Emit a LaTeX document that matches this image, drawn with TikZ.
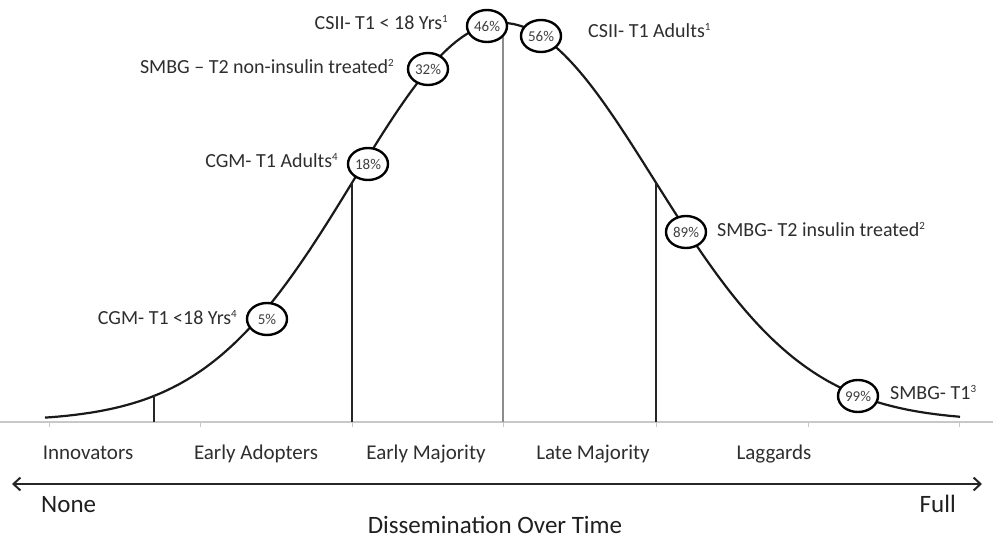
\documentclass[tikz,border=0pt]{standalone}
\usepackage{fontspec}
\setmainfont{Carlito}
\usetikzlibrary{shapes.geometric,arrows.meta}
\definecolor{txt}{HTML}{2E2E2E}
\definecolor{pct}{HTML}{404040}
\definecolor{basegray}{HTML}{C8C8C8}
\newcommand\myup[1]{\raisebox{0.75ex}{\fontsize{11}{12}\selectfont #1}}
\tikzset{
  pctbox/.style={ellipse, draw=black, line width=2.4pt, fill=white, minimum width=40pt, minimum height=32pt, inner sep=0pt, text=pct, font=\fontsize{15}{17}\selectfont},
  note/.style={inner sep=0pt, text=txt, font=\fontsize{20}{24}\selectfont},
  cat/.style={inner sep=0pt, text=txt, font=\fontsize{21}{25}\selectfont, anchor=mid},
  axislab/.style={inner sep=0pt, text=black!88, font=\fontsize{25}{30}\selectfont},
  divline/.style={draw=black!85, line width=1.8pt},
  tick/.style={draw=basegray, line width=1pt}
}
\begin{document}
\begin{tikzpicture}[x=1pt,y=-1pt]
\useasboundingbox (0,0) rectangle (993,540);
% baseline
\coordinate (b0) at (0,422);
\coordinate (b1) at (993,422);
\draw[draw=basegray, line width=1.5pt] (b0) -- (b1);
% faint ticks
\foreach \tx [count=\i] in {49,200,352,503,656,808,959}{
  \coordinate (t\i a) at (\tx,422);
  \coordinate (t\i b) at (\tx,427);
  \draw[tick] (t\i a) -- (t\i b);
}
% bell curve
\draw[line width=2.2pt, black!90, line join=round]
  plot[domain=45:502, samples=120] (\x,{421-398*exp(-0.5*((\x-502)/148)^2)})
  -- plot[domain=502:960, samples=120] (\x,{421-398*exp(-0.5*((\x-502)/152)^2)});
% dividing lines
\coordinate (v1t) at (154,395); \coordinate (v1b) at (154,422);
\coordinate (v2t) at (352,183); \coordinate (v2b) at (352,422);
\coordinate (v3t) at (503,26);  \coordinate (v3b) at (503,422);
\coordinate (v4t) at (656,183); \coordinate (v4b) at (656,422);
\draw[divline, line width=1.5pt] (v1t) -- (v1b);
\draw[divline] (v2t) -- (v2b);
\draw[draw=black!45, line width=2pt] (v3t) -- (v3b);
\draw[divline] (v4t) -- (v4b);
% percentage ellipses
\node[pctbox] (p5)  at (267,319) {5\%};
\node[pctbox] (p18) at (368,164) {18\%};
\node[pctbox] (p32) at (428,69)  {32\%};
\node[pctbox] (p46) at (487,26)  {46\%};
\node[pctbox] (p56) at (541,36)  {56\%};
\node[pctbox] (p89) at (686,232) {89\%};
\node[pctbox] (p99) at (858,396) {99\%};
% labels
\node[note, anchor=mid east] (l5)  at (237,322) {CGM- T1 <18 Yrs\myup{4}};
\node[note, anchor=mid east] (l18) at (338,165) {CGM- T1 Adults\myup{4}};
\node[note, anchor=mid east] (l32) at (394,71)  {SMBG – T2 non-insulin treated\myup{2}};
\node[note, anchor=mid east] (l46) at (448,27)  {CSII- T1 < 18 Yrs\myup{1}};
\node[note, anchor=mid west] (l56) at (588,35)  {CSII- T1 Adults\myup{1}};
\node[note, anchor=mid west] (l89) at (717,234) {SMBG- T2 insulin treated\myup{2}};
\node[note, anchor=mid west] (l99) at (890,397) {SMBG- T1\myup{3}};
% categories
\node[cat] (c1) at (88,457)  {Innovators};
\node[cat] (c2) at (256,457) {Early Adopters};
\node[cat] (c3) at (426,457) {Early Majority};
\node[cat] (c4) at (593,457) {Late Majority};
\node[cat] (c5) at (774,457) {Laggards};
% axis arrow
\coordinate (aL) at (12,484);
\coordinate (aR) at (982,484);
\draw[line width=2.4pt, black!85, {Straight Barb[length=7pt,width=13pt,line width=2pt]}-{Straight Barb[length=7pt,width=13pt,line width=2pt]}] (aL) -- (aR);
\node[axislab, anchor=mid west] (none) at (41,510) {None};
\node[axislab, anchor=mid east] (full) at (956,510) {Full};
\node[axislab, anchor=mid] (diss) at (495,531) {Dissemination Over Time};
\end{tikzpicture}
\end{document}
